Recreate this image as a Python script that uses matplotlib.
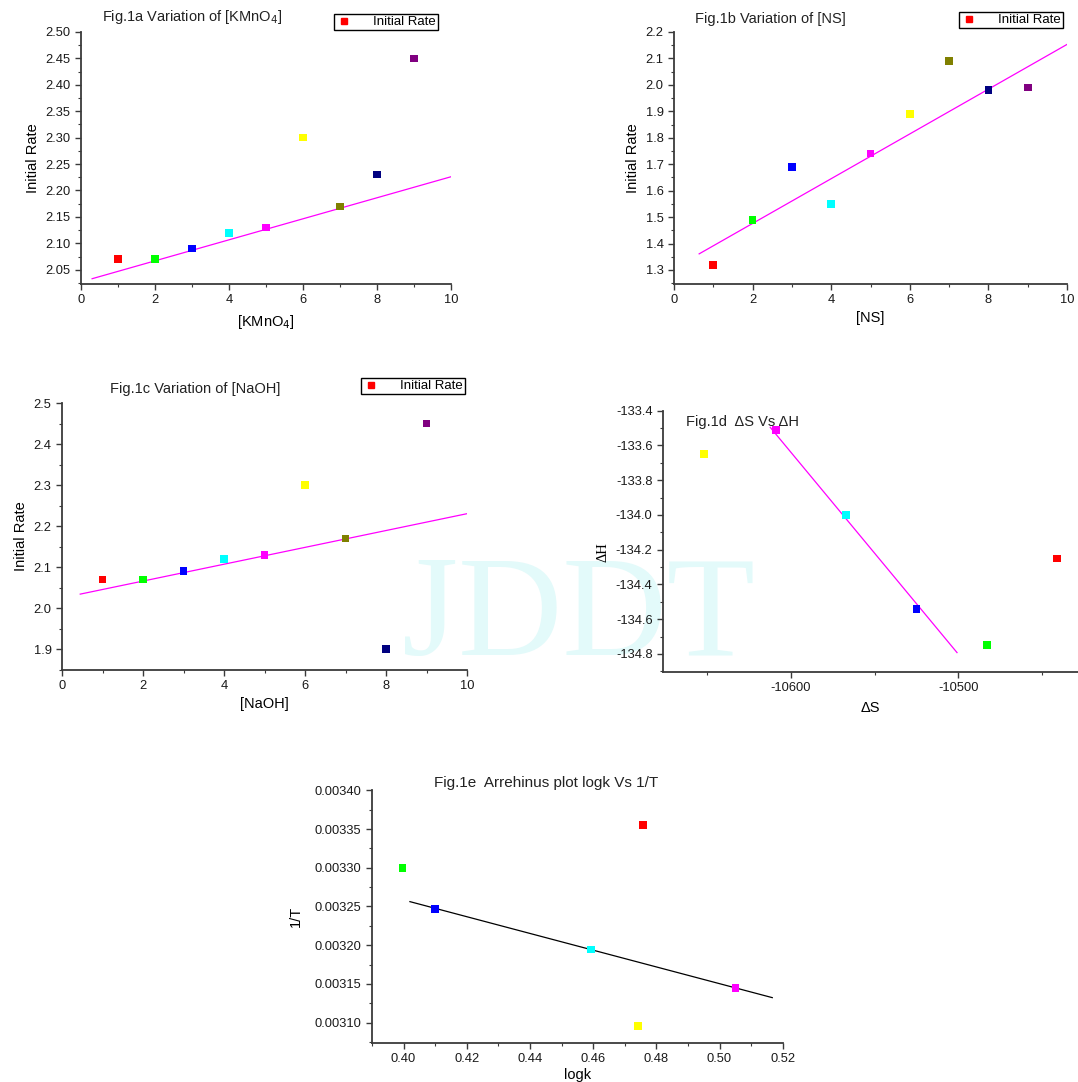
import matplotlib
matplotlib.use("Agg")
import matplotlib.pyplot as plt
from matplotlib.lines import Line2D
from matplotlib.ticker import MultipleLocator, FormatStrFormatter, FixedLocator

plt.rcParams["font.family"] = ["Liberation Sans", "DejaVu Sans"]
plt.rcParams["axes.unicode_minus"] = False

# Origin default palette, in point order
RED, GREEN, BLUE, CYAN = "#FF0000", "#00FF00", "#0000FF", "#00FFFF"
MAGENTA, YELLOW, OLIVE, NAVY, PURPLE = "#FF00FF", "#FFFF00", "#808000", "#000080", "#800080"
pal9 = [RED, GREEN, BLUE, CYAN, MAGENTA, YELLOW, OLIVE, NAVY, PURPLE]

# Fig.1a  [KMnO4]
conc = [1, 2, 3, 4, 5, 6, 7, 8, 9]
rate_kmno4 = [2.07, 2.07, 2.09, 2.12, 2.13, 2.30, 2.17, 2.23, 2.45]
fit_a_x = [0.3, 10.2]
fit_a_y = [2.033, 2.230]

# Fig.1b  [NS]
rate_ns = [1.32, 1.49, 1.69, 1.55, 1.74, 1.89, 2.09, 1.98, 1.99]
fit_b_x = [0.64, 10.0]
fit_b_y = [1.361, 2.153]

# Fig.1c  [NaOH]
rate_naoh = [2.07, 2.07, 2.09, 2.12, 2.13, 2.30, 2.17, 1.90, 2.45]
fit_c_x = [0.45, 10.14]
fit_c_y = [2.034, 2.233]

# Fig.1d  dS vs dH
dS = [-10652, -10609, -10567, -10525, -10483, -10441]
dH = [-133.65, -133.51, -134.00, -134.54, -134.75, -134.25]
pal_d = [YELLOW, MAGENTA, CYAN, BLUE, GREEN, RED]
fit_d_x = [-10612.4, -10500.8]
fit_d_y = [-133.496, -134.792]

# Fig.1e  Arrhenius
logk = [0.3997, 0.4099, 0.4594, 0.4742, 0.4757, 0.5051]
inv_T = [0.003300, 0.0032465, 0.0031942, 0.0030957, 0.0033552, 0.0031444]
pal_e = [GREEN, BLUE, CYAN, YELLOW, RED, MAGENTA]
fit_e_x = [0.402, 0.5167]
fit_e_y = [0.0032562, 0.0031322]

SPINE = "#3a3a3a"
W, H = 1078, 1082
TICK_FS = 9.3


def frac(left, top, right, bottom):
    return [left / W, 1 - bottom / H, (right - left) / W, (bottom - top) / H]


def style(ax):
    ax.set_facecolor("none")
    for s in ("top", "right"):
        ax.spines[s].set_visible(False)
    for s in ("left", "bottom"):
        ax.spines[s].set_color(SPINE)
        ax.spines[s].set_linewidth(1.3)
    ax.tick_params(which="both", direction="out", colors=SPINE, labelcolor="#1a1a1a",
                   labelsize=TICK_FS)
    ax.tick_params(which="major", length=4, width=1)
    ax.tick_params(which="minor", length=2.5, width=0.8)


def scatter(ax, x, y, colors):
    ax.scatter(x, y, c=colors, marker="s", s=30, linewidths=0, zorder=3)


def legend(ax, right, top):
    h = Line2D([], [], color=RED, marker="s", linestyle="none", markersize=5)
    ax.legend([h], ["Initial Rate"], loc="upper right",
              bbox_to_anchor=(right / W, 1 - top / H), bbox_transform=ax.figure.transFigure,
              fancybox=False, edgecolor="black", framealpha=1, fontsize=9.5,
              borderpad=0.15, handletextpad=1.6, handlelength=1.2, borderaxespad=0)


fig = plt.figure(figsize=(W / 100, H / 100), dpi=100)

# journal watermark behind the panels
fig.text(0.537, 1 - 655 / H, "JDDT", family=["Liberation Serif"], fontsize=104,
         color="#e3fafa", ha="center", va="baseline", zorder=-5)

# --- Fig.1a
ax = fig.add_axes(frac(81, 32, 451, 284))
style(ax)
ax.plot(fit_a_x, fit_a_y, color=MAGENTA, lw=0.9, zorder=2)
scatter(ax, conc, rate_kmno4, pal9)
ax.set_xlim(0, 10)
ax.set_ylim(2.023, 2.50)
ax.xaxis.set_major_locator(MultipleLocator(2))
ax.xaxis.set_minor_locator(MultipleLocator(1))
ax.yaxis.set_major_locator(FixedLocator([2.05, 2.10, 2.15, 2.20, 2.25, 2.30, 2.35, 2.40, 2.45, 2.50]))
ax.yaxis.set_minor_locator(MultipleLocator(0.025))
ax.yaxis.set_major_formatter(FormatStrFormatter("%.2f"))
ax.set_xlabel("[KMnO$_4$]", fontsize=10.5, labelpad=5)
ax.set_ylabel("Initial Rate", fontsize=10.5)
ax.text(0.30, 1.025, "Fig.1a Variation of [KMnO$_4$]", transform=ax.transAxes,
        ha="center", va="bottom", fontsize=10.5, color="#222222")
legend(ax, 438, 14)

# --- Fig.1b
ax = fig.add_axes(frac(674, 32, 1067, 284))
style(ax)
ax.plot(fit_b_x, fit_b_y, color=MAGENTA, lw=0.9, zorder=2)
scatter(ax, conc, rate_ns, pal9)
ax.set_xlim(0, 10)
ax.set_ylim(1.247, 2.2)
ax.xaxis.set_major_locator(MultipleLocator(2))
ax.xaxis.set_minor_locator(MultipleLocator(1))
ax.yaxis.set_major_locator(FixedLocator([1.3, 1.4, 1.5, 1.6, 1.7, 1.8, 1.9, 2.0, 2.1, 2.2]))
ax.yaxis.set_minor_locator(MultipleLocator(0.05))
ax.yaxis.set_major_formatter(FormatStrFormatter("%.1f"))
ax.set_xlabel("[NS]", fontsize=10.5, labelpad=3)
ax.set_ylabel("Initial Rate", fontsize=10.5)
ax.text(0.245, 1.025, "Fig.1b Variation of [NS]", transform=ax.transAxes,
        ha="center", va="bottom", fontsize=10.5, color="#222222")
legend(ax, 1063, 12)

# --- Fig.1c
ax = fig.add_axes(frac(62, 403, 467, 670))
style(ax)
ax.plot(fit_c_x, fit_c_y, color=MAGENTA, lw=0.9, zorder=2)
scatter(ax, conc, rate_naoh, pal9)
ax.set_xlim(0, 10)
ax.set_ylim(1.849, 2.5)
ax.xaxis.set_major_locator(MultipleLocator(2))
ax.xaxis.set_minor_locator(MultipleLocator(1))
ax.yaxis.set_major_locator(FixedLocator([1.9, 2.0, 2.1, 2.2, 2.3, 2.4, 2.5]))
ax.yaxis.set_minor_locator(MultipleLocator(0.05))
ax.yaxis.set_major_formatter(FormatStrFormatter("%.1f"))
ax.set_xlabel("[NaOH]", fontsize=10.5, labelpad=3)
ax.set_ylabel("Initial Rate", fontsize=10.5)
ax.text(0.33, 1.025, "Fig.1c Variation of [NaOH]", transform=ax.transAxes,
        ha="center", va="bottom", fontsize=10.5, color="#222222")
legend(ax, 465, 378)

# --- Fig.1d
ax = fig.add_axes(frac(663, 410.7, 1078, 671.7))
style(ax)
ax.plot(fit_d_x, fit_d_y, color=MAGENTA, lw=0.9, zorder=2)
scatter(ax, dS, dH, pal_d)
ax.set_xlim(-10676.5, -10428.5)
ax.set_ylim(-134.902, -133.4)
ax.xaxis.set_major_locator(FixedLocator([-10600, -10500]))
ax.xaxis.set_minor_locator(FixedLocator([-10650, -10550, -10450]))
ax.yaxis.set_major_locator(FixedLocator([-134.8, -134.6, -134.4, -134.2, -134.0,
                                         -133.8, -133.6, -133.4]))
ax.yaxis.set_minor_locator(MultipleLocator(0.1))
ax.yaxis.set_major_formatter(FormatStrFormatter("%.1f"))
ax.set_xlabel("\u0394S", fontsize=10.5, labelpad=5)
ax.set_ylabel("\u0394H", fontsize=10.5, family=["Liberation Serif"])
ax.yaxis.set_label_coords(-0.13, 0.46)
ax.text(0.055, 0.985, "Fig.1d  \u0394S Vs \u0394H", transform=ax.transAxes,
        ha="left", va="top", fontsize=10.5, color="#222222")

# --- Fig.1e
ax = fig.add_axes(frac(371.7, 790.3, 782.7, 1042.7))
style(ax)
ax.plot(fit_e_x, fit_e_y, color="black", lw=0.9, zorder=2)
scatter(ax, logk, inv_T, pal_e)
ax.set_xlim(0.3899, 0.52)
ax.set_ylim(0.003074, 0.00340)
ax.xaxis.set_major_locator(FixedLocator([0.40, 0.42, 0.44, 0.46, 0.48, 0.50, 0.52]))
ax.xaxis.set_minor_locator(MultipleLocator(0.01))
ax.yaxis.set_major_locator(FixedLocator([0.00310, 0.00315, 0.00320, 0.00325,
                                         0.00330, 0.00335, 0.00340]))
ax.yaxis.set_minor_locator(MultipleLocator(0.000025))
ax.xaxis.set_major_formatter(FormatStrFormatter("%.2f"))
ax.yaxis.set_major_formatter(FormatStrFormatter("%.5f"))
ax.set_xlabel("logk", fontsize=10.5, labelpad=2)
ax.set_ylabel("1/T", fontsize=10.5, labelpad=8)
ax.text(0.424, 1.0, "Fig.1e  Arrehinus plot logk Vs 1/T", transform=ax.transAxes,
        ha="center", va="bottom", fontsize=11, color="#222222")

fig.savefig("out.png", dpi=100)
